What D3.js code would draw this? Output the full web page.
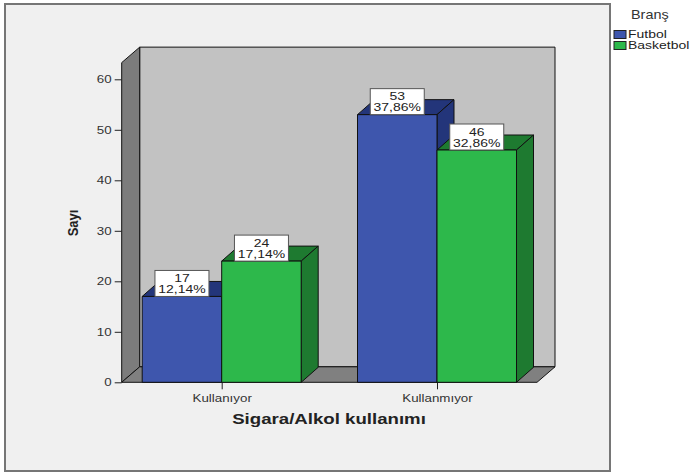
<!DOCTYPE html>
<html><head><meta charset="utf-8">
<script src="https://cdn.jsdelivr.net/npm/d3@7"></script>
<style>body{margin:0;background:#fff}svg{display:block}</style>
</head><body>
<svg id="c" width="690" height="475"></svg>
<script>
const categories = ["Kullanıyor", "Kullanmıyor"];
const seriesNames = ["Futbol", "Basketbol"];
const futbolValues = [17, 53];
const basketbolValues = [24, 46];
const futbolPercents = ["12,14%", "37,86%"];
const basketbolPercents = ["17,14%", "32,86%"];
const yTicks = [0, 10, 20, 30, 40, 50, 60];
const yMaxWall = 63.3;
const colors = {Futbol: {front: "#3e56ad", dark: "#23357a"}, Basketbol: {front: "#2db84b", dark: "#1e7a30"}};

const svg = d3.select("#c");
const FONT = "'Liberation Sans', Arial, sans-serif";
const SX = 1.27; // horizontal text stretch seen in the reference

function addText(g, x, y, str, size, opts = {}) {
  const sx = opts.sx || SX;
  const t = g.append("text")
    .attr("transform", `translate(${x},${y}) scale(${sx},1)` + (opts.rotate ? ` rotate(${opts.rotate})` : ""))
    .attr("text-anchor", opts.anchor || "start")
    .attr("font-family", FONT).attr("font-size", size)
    .attr("font-weight", opts.bold ? "bold" : "normal")
    .attr("fill", opts.fill || "#222").text(str);
  return t;
}

// outer frame
svg.append("rect").attr("x", 5).attr("y", 4).attr("width", 605).attr("height", 467)
  .attr("fill", "#f0f0f0").attr("stroke", "#767676").attr("stroke-width", 2);

const y = d3.scaleLinear().domain([0, 60]).range([382.3, 79.3]);
const x = d3.scalePoint().domain(categories).range([221.7, 437]);
const sub = d3.scaleBand().domain(seriesNames).range([-79.5, 79.5]);
const xLeft = 121.7, xRight = 537;
const wdx = 18, wdy = -15.5; // wall depth
const bdx = 17, bdy = -15;   // bar depth

const pt = p => p.join(",");
const poly = (g, pts, fill) => g.append("polygon").attr("points", pts.map(pt).join(" "))
  .attr("fill", fill).attr("stroke", "#111").attr("stroke-width", 1).attr("stroke-linejoin", "round");

const walls = svg.append("g");
poly(walls, [[xLeft + wdx, y(yMaxWall) + wdy], [xRight + wdx, y(yMaxWall) + wdy], [xRight + wdx, y(0) + wdy], [xLeft + wdx, y(0) + wdy]], "#c2c2c2");
poly(walls, [[xLeft, y(yMaxWall)], [xLeft + wdx, y(yMaxWall) + wdy], [xLeft + wdx, y(0) + wdy], [xLeft, y(0)]], "#7c7c7c");
poly(walls, [[xLeft, y(0)], [xLeft + wdx, y(0) + wdy], [xRight + wdx, y(0) + wdy], [xRight, y(0)]], "#808080");

// y axis
const yAxis = svg.append("g").attr("transform", `translate(${xLeft},0)`)
  .call(d3.axisLeft(y).tickValues(yTicks).tickSize(7).tickPadding(2));
yAxis.select(".domain").remove();
yAxis.selectAll("line").attr("stroke", "#222");
yAxis.selectAll("text").attr("x", -10 / SX).attr("transform", `scale(${SX},1)`)
  .attr("font-family", FONT).attr("font-size", 10.5).attr("fill", "#333");

// x axis
const xAxis = svg.append("g").attr("transform", `translate(0,${y(0)})`)
  .call(d3.axisBottom(x).tickSize(7).tickPadding(5));
xAxis.select(".domain").remove();
xAxis.selectAll("line").attr("stroke", "#222");
xAxis.selectAll("text").attr("transform", `scale(${SX},1)`)
  .attr("font-family", FONT).attr("font-size", 10.5).attr("fill", "#333");

// bars
const data = [];
categories.forEach((c, i) => {
  data.push({cat: c, s: "Futbol", v: futbolValues[i], p: futbolPercents[i]});
  data.push({cat: c, s: "Basketbol", v: basketbolValues[i], p: basketbolPercents[i]});
});
const bars = svg.append("g");
data.forEach(d => {
  const x0 = x(d.cat) + sub(d.s), x1 = x0 + sub.bandwidth();
  const yt = y(d.v), yb = y(0);
  const g = bars.append("g");
  poly(g, [[x0, yt], [x0 + bdx, yt + bdy], [x1 + bdx, yt + bdy], [x1, yt]], colors[d.s].dark);
  poly(g, [[x1, yt], [x1 + bdx, yt + bdy], [x1 + bdx, yb + bdy], [x1, yb]], colors[d.s].dark);
  poly(g, [[x0, yt], [x1, yt], [x1, yb], [x0, yb]], colors[d.s].front);
});

// labels
const labels = svg.append("g");
data.forEach(d => {
  const cx = x(d.cat) + sub(d.s) + sub.bandwidth() / 2;
  const yt = y(d.v);
  const w = 54, h = 26;
  labels.append("rect").attr("x", cx - w / 2).attr("y", yt - h).attr("width", w).attr("height", h)
    .attr("fill", "#fff").attr("stroke", "#555").attr("stroke-width", 1);
  addText(labels, cx, yt - 14.5, d.v, 11, {anchor: "middle"});
  addText(labels, cx, yt - 3.5, d.p, 11, {anchor: "middle"});
});

// titles
addText(svg, 329, 423.5, "Sigara/Alkol kullanımı", 14.8, {anchor: "middle", bold: true, sx: 1.26});
addText(svg, 77.5, 223, "Sayı", 13, {anchor: "middle", bold: true, rotate: -90, sx: 1.15});

// legend
addText(svg, 631, 19, "Branş", 12, {fill: "#333", sx: 1.2});
seriesNames.forEach((s, i) => {
  svg.append("rect").attr("x", 614).attr("y", 30.5 + i * 11).attr("width", 12).attr("height", 8)
    .attr("fill", colors[s].front).attr("stroke", "#222").attr("stroke-width", 1);
  addText(svg, 628, 38 + i * 11, s, 10.5, {sx: 1.33});
});
</script>
</body></html>
